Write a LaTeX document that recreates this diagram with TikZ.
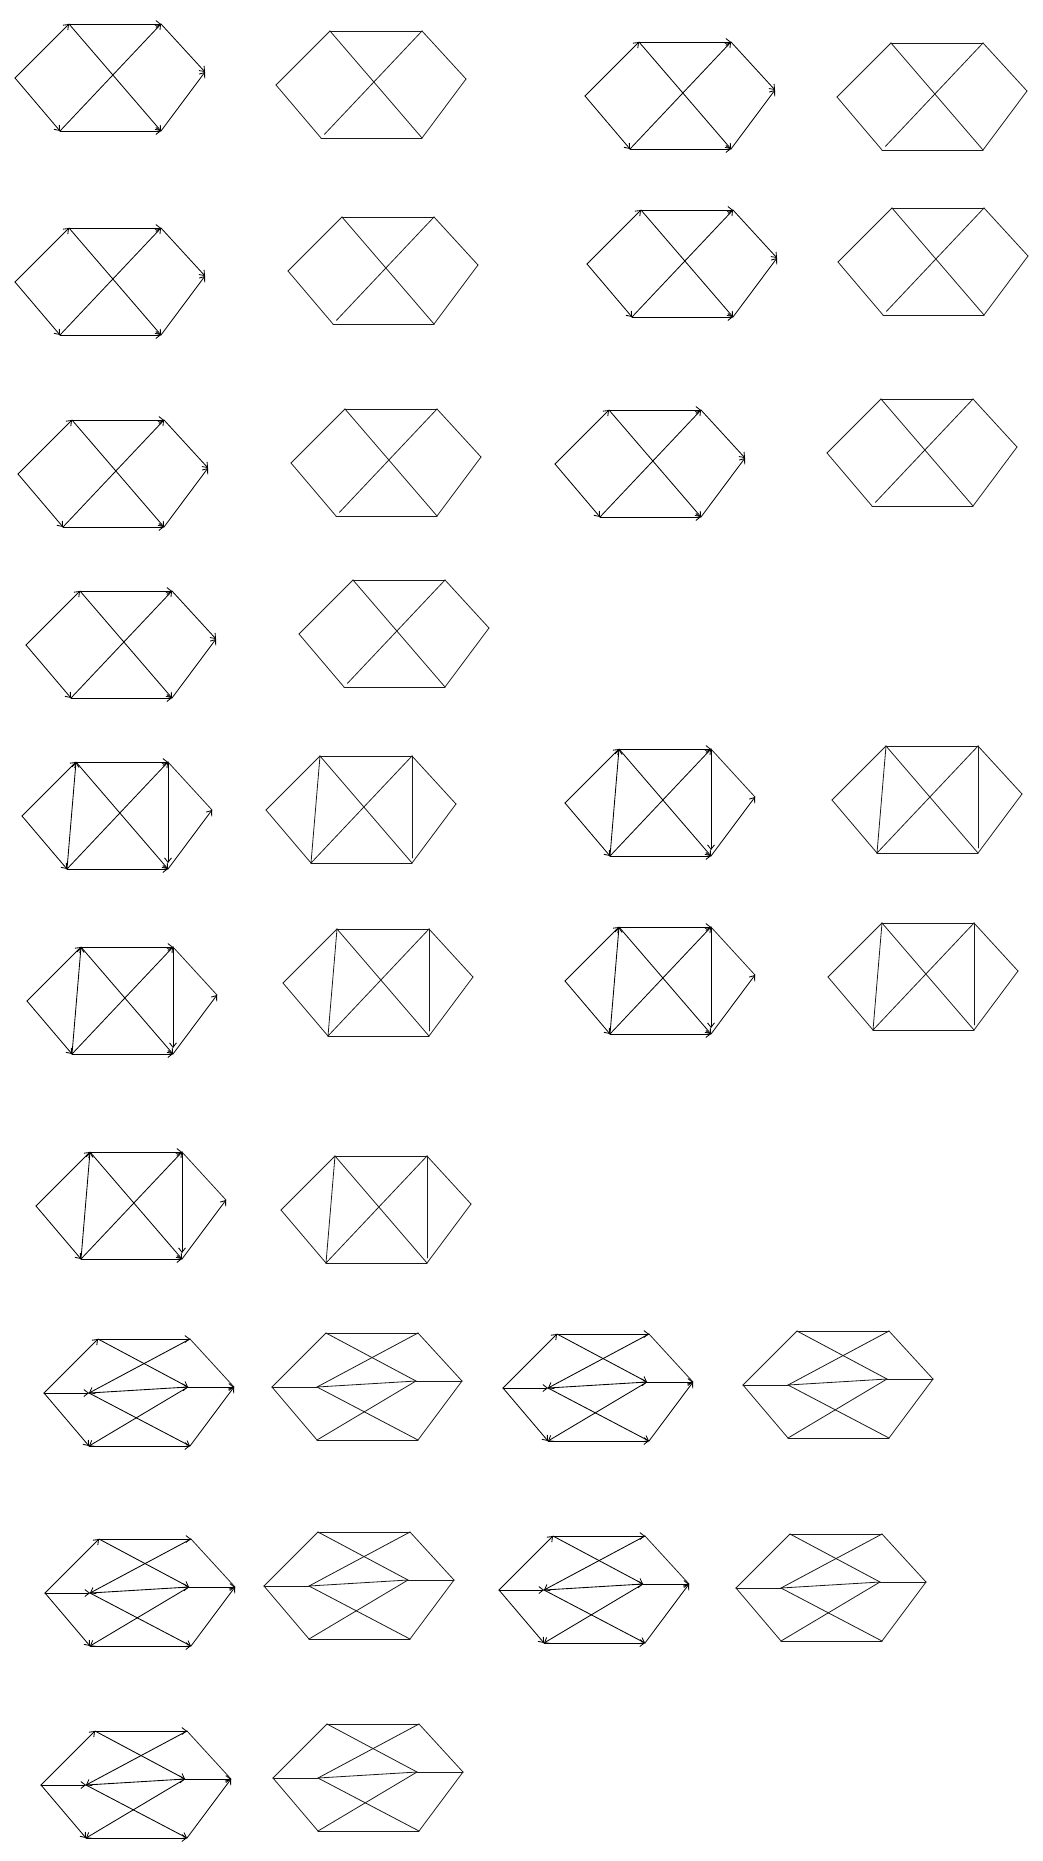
\documentclass[tikz,border=0pt]{standalone}
\usetikzlibrary{arrows.meta}
\tikzset{
  gr/.style={x=1pt,y=-1pt,line cap=round,line join=round},
  dedge/.style={draw=black,line width=0.85pt},
  arr/.style={dedge,-{Straight Barb[length=4.5pt,width=7pt]}},
  uedge/.style={draw=black!90,line width=0.8pt},
}
\newcommand\hexpts[2]{%
  \begin{scope}[shift={(#2)}]
    \coordinate (#1L)  at (0,0);
    \coordinate (#1TL) at (54,-54);
    \coordinate (#1TR) at (146,-54);
    \coordinate (#1R)  at (190,-6);
    \coordinate (#1BR) at (146,53);
    \coordinate (#1BL) at (45,53);
    \coordinate (#1ML) at (45,0);
    \coordinate (#1MR) at (144,-6);
  \end{scope}}
% family 1
\newcommand\famAd[2]{\hexpts{#1}{#2}
  \draw[arr] (#1L) -- (#1TL); \draw[arr] (#1L) -- (#1BL);
  \draw[arr] (#1TL) -- (#1TR); \draw[arr] (#1TL) -- (#1BR);
  \draw[arr] (#1BL) -- (#1TR); \draw[arr] (#1BL) -- (#1BR);
  \draw[arr] (#1TR) -- (#1R); \draw[arr] (#1BR) -- (#1R);}
\newcommand\famAu[2]{\hexpts{#1}{#2}
  \draw[uedge] (#1L) -- (#1TL); \draw[uedge] (#1L) -- (#1BL);
  \draw[uedge] (#1TL) -- (#1TR); \draw[uedge] (#1TL) -- (#1BR);
  \draw[uedge,shorten <=5pt] (#1BL) -- (#1TR); \draw[uedge] (#1BL) -- (#1BR);
  \draw[uedge] (#1TR) -- (#1R); \draw[uedge] (#1BR) -- (#1R);}
% family 2
\newcommand\famBd[2]{\hexpts{#1}{#2}
  \draw[arr] (#1L) -- (#1TL); \draw[arr] (#1L) -- (#1BL);
  \draw[arr] (#1BL) -- (#1TL);
  \draw[arr] (#1TL) -- (#1TR); \draw[arr] (#1TL) -- (#1BR);
  \draw[arr] (#1BL) -- (#1TR); \draw[arr] (#1BL) -- (#1BR);
  \draw[arr,shorten >=6pt] (#1TR) -- (#1BR);
  \draw[uedge] (#1TR) -- (#1R); \draw[arr] (#1BR) -- (#1R);}
\newcommand\famBu[2]{\hexpts{#1}{#2}
  \draw[uedge] (#1L) -- (#1TL); \draw[uedge] (#1L) -- (#1BL);
  \draw[uedge] (#1BL) -- (#1TL);
  \draw[uedge] (#1TL) -- (#1TR); \draw[uedge] (#1TL) -- (#1BR);
  \draw[uedge] (#1BL) -- (#1TR); \draw[uedge] (#1BL) -- (#1BR);
  \draw[uedge,shorten >=5pt] (#1TR) -- (#1BR);
  \draw[uedge] (#1TR) -- (#1R); \draw[uedge] (#1BR) -- (#1R);}
% family 3
\newcommand\famCd[2]{\hexpts{#1}{#2}
  \draw[arr] (#1L) -- (#1TL); \draw[arr] (#1L) -- (#1ML); \draw[arr] (#1L) -- (#1BL);
  \draw[arr] (#1TL) -- (#1TR); \draw[arr] (#1TL) -- (#1MR);
  \draw[arr] (#1TR) -- (#1ML); \draw[arr] (#1ML) -- (#1MR);
  \draw[arr] (#1ML) -- (#1BR); \draw[arr] (#1MR) -- (#1BL);
  \draw[arr] (#1BL) -- (#1BR);
  \draw[uedge] (#1TR) -- (#1R); \draw[arr] (#1MR) -- (#1R); \draw[arr] (#1BR) -- (#1R);}
\newcommand\famCu[2]{\hexpts{#1}{#2}
  \draw[uedge] (#1L) -- (#1TL); \draw[uedge] (#1L) -- (#1ML); \draw[uedge] (#1L) -- (#1BL);
  \draw[uedge] (#1TL) -- (#1TR); \draw[uedge] (#1TL) -- (#1MR);
  \draw[uedge] (#1TR) -- (#1ML); \draw[uedge] (#1ML) -- (#1MR);
  \draw[uedge] (#1ML) -- (#1BR); \draw[uedge] (#1MR) -- (#1BL);
  \draw[uedge] (#1BL) -- (#1BR);
  \draw[uedge] (#1TR) -- (#1R); \draw[uedge] (#1MR) -- (#1R); \draw[uedge] (#1BR) -- (#1R);}
\begin{document}
\begin{tikzpicture}[gr]
\useasboundingbox[fill=white] (0,0) rectangle (1043,1861);
% rows 1-4
\famAd{a1}{15,78}   \famAu{a2}{276,85}  \famAd{a3}{585,96}  \famAu{a4}{837,97}
\famAd{b1}{15,282}  \famAu{b2}{288,271} \famAd{b3}{587,264} \famAu{b4}{838,262}
\famAd{c1}{18,474}  \famAu{c2}{291,463} \famAd{c3}{555,464} \famAu{c4}{827,453}
\famAd{d1}{26,645}  \famAu{d2}{299,634}
% rows 5-7
\famBd{e1}{22,816}  \famBu{e2}{266,810} \famBd{e3}{565,803} \famBu{e4}{832,800}
\famBd{f1}{27,1001} \famBu{f2}{283,983} \famBd{f3}{565,981} \famBu{f4}{828,977}
\famBd{g1}{36,1206} \famBu{g2}{281,1210}
% rows 8-10
\famCd{h1}{44,1393} \famCu{h2}{272,1387} \famCd{h3}{503,1388} \famCu{h4}{743,1385}
\famCd{i1}{45,1593} \famCu{i2}{264,1586} \famCd{i3}{499,1590} \famCu{i4}{736,1588}
\famCd{j1}{41,1785} \famCu{j2}{273,1778}
\end{tikzpicture}
\end{document}
